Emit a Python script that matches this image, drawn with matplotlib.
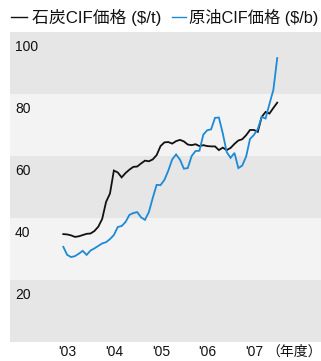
import matplotlib
matplotlib.use("Agg")
import matplotlib.pyplot as plt
from matplotlib.lines import Line2D
import matplotlib.transforms as mtransforms

# ---- data (monthly, from spring 2003) ----
coal = [34.8, 34.7, 34.4, 33.9, 34.1, 34.5, 34.9, 35.0, 35.8, 37.2, 39.7, 45.2,
        47.9, 55.3, 54.7, 53.1, 54.5, 55.6, 56.5, 56.6, 57.6, 58.5, 58.3, 58.9,
        60.3, 63.2, 64.4, 64.5, 64.0, 64.8, 65.2, 64.7, 63.7, 63.5, 63.8, 63.2,
        63.5, 63.2, 63.1, 63.1, 61.9, 62.7, 61.9, 62.6, 63.9, 65.0, 65.4, 66.7,
        68.4, 68.4, 67.8, 72.6, 74.2, 73.7, 75.5, 77.2]
oil = [30.7, 28.1, 27.4, 27.7, 28.5, 29.4, 28.1, 29.5, 30.2, 31.0, 31.8, 32.2,
       33.2, 34.5, 37.1, 37.4, 38.7, 41.0, 41.6, 41.9, 40.2, 39.4, 41.9, 46.5,
       50.7, 50.6, 52.3, 55.3, 58.9, 60.5, 58.8, 55.9, 56.1, 60.0, 61.6, 61.7,
       66.9, 68.3, 68.6, 72.3, 72.4, 67.3, 61.3, 59.4, 61.0, 56.1, 56.9, 59.8,
       65.5, 66.8, 68.7, 72.6, 72.1, 76.8, 81.3, 91.6]
months = list(range(len(coal)))
year_labels = ["'03", "'04", "'05", "'06", "'07"]
year_tick_pos = [1.1 + 12 * k for k in range(len(year_labels))]
y_labels = [100, 80, 60, 40, 20]
legend_names = ["石炭CIF価格 ($/t)", "原油CIF価格 ($/b)"]

COAL_C = "#111111"
OIL_C = "#1c8ad6"
DARK = "#e6e6e6"
LIGHT = "#f3f3f3"
FONT = ["Liberation Sans", "Noto Sans CJK JP", "DejaVu Sans"]

W, H = 321, 361
fig = plt.figure(figsize=(W / 100, H / 100), dpi=100)
fig.patch.set_facecolor("white")

def px(x, y):
    return x / W, 1 - y / H

ax = fig.add_axes([10 / W, (H - 342) / H, 311 / W, 310 / H])
ax.set_xlim(-13.7, 66.25)
ax.set_ylim(0, 100)
for s in ax.spines.values():
    s.set_visible(False)
ax.set_facecolor("none")

for k, lo in enumerate(range(0, 100, 20)):
    ax.axhspan(lo, lo + 20, color=DARK if k % 2 == 0 else LIGHT, lw=0, zorder=0)

ax.plot(months, coal, color=COAL_C, lw=1.3, zorder=3, solid_joinstyle="miter")
ax.plot(months, oil, color=OIL_C, lw=1.3, zorder=3, solid_joinstyle="miter")

ax.set_yticks([])
ax.set_xticks(year_tick_pos)
ax.set_xticklabels(year_labels, fontsize=10, family=FONT, color="#111111")
ax.tick_params(axis="x", length=0, pad=2.5)

trans = mtransforms.blended_transform_factory(ax.transAxes, ax.transData)
offset = mtransforms.ScaledTranslation(0, -6 / 72 * 1.0, fig.dpi_scale_trans)
for v in y_labels:
    ax.text(5 / 311, v, str(v), transform=trans + offset, ha="left", va="top",
            fontsize=10, family=FONT, color="#111111")

# unit label after last tick
fig.text(*px(266, 352), "（年度）", ha="left", va="center", fontsize=10,
         family=FONT, color="#111111")

# legend row: fit each label to its width in the reference
renderer = fig.canvas.get_renderer()
def fitted_text(x0, x1, s):
    t = fig.text(*px(x0, 17), s, ha="left", va="center", fontsize=11,
                 family=FONT, color="#111111")
    w = t.get_window_extent(renderer).width
    t.set_fontsize(11 * (x1 - x0) / w)
    return t

fig.add_artist(Line2D([px(11.5, 0)[0], px(26.5, 0)[0]], [px(0, 16.5)[1]] * 2,
                      color=COAL_C, lw=1.0, transform=fig.transFigure))
fitted_text(32, 161, legend_names[0])
fig.add_artist(Line2D([px(171.5, 0)[0], px(185.5, 0)[0]], [px(0, 16.5)[1]] * 2,
                      color=OIL_C, lw=1.0, transform=fig.transFigure))
fitted_text(189, 318, legend_names[1])

fig.savefig("out.png", dpi=100)
